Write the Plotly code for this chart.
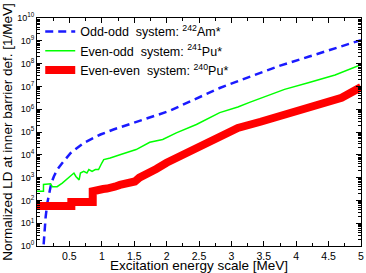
import plotly.graph_objects as go

# Odd-odd system 242Am*
oo_x = [0.088, 0.1, 0.12, 0.134, 0.16, 0.185, 0.22, 0.26, 0.32, 0.39, 0.52, 0.72, 0.98, 1.18,
        1.5, 1.75, 2.05, 2.43, 2.82, 3.28, 3.74, 4.2, 4.6, 5.0]
oo_log = [-0.5, 0.1, 0.7, 1.29, 1.9, 2.32, 2.75, 3.05, 3.38, 3.64, 4.08, 4.52, 4.89, 5.11,
          5.42, 5.66, 5.93, 6.43, 6.93, 7.42, 7.90, 8.31, 8.67, 9.03]

# Even-odd system 241Pu*
eo_x = [0.0, 0.1, 0.1, 0.21, 0.235, 0.31, 0.39, 0.47, 0.52, 0.57, 0.6, 0.65, 0.67, 0.72, 0.77,
        0.8, 0.85, 0.9, 0.95, 0.98, 1.0, 1.03, 1.13, 1.28, 1.53, 1.74, 1.94, 2.15, 2.46,
        2.82, 3.1, 3.28, 3.82, 4.2, 4.6, 5.0]
eo_log = [2.4, 2.4, 2.7, 2.73, 2.6, 2.6, 2.76, 2.94, 3.05, 3.2, 3.05, 2.9, 3.2, 3.27, 3.2,
          3.35, 3.27, 3.35, 3.35, 3.49, 3.64, 3.79, 3.86, 4.0, 4.23, 4.55, 4.67, 4.96, 5.33,
          5.85, 6.1, 6.3, 6.87, 7.17, 7.5, 7.95]

# Even-even system 240Pu*
ee_x = [0.0, 0.53, 0.53, 0.86, 0.86, 1.0, 1.02, 1.08, 1.12, 1.2, 1.28, 1.35, 1.4, 1.51, 1.58,
        1.69, 1.84, 2.0, 2.3, 2.82, 3.1, 3.45, 3.82, 4.35, 4.7, 5.0]
ee_log = [1.75, 1.75, 1.93, 1.93, 2.4, 2.42, 2.5, 2.52, 2.58, 2.6, 2.68, 2.7, 2.76, 2.83, 3.0,
          3.2, 3.38, 3.65, 4.08, 4.81, 5.18, 5.45, 5.77, 6.14, 6.5, 6.97]

x_ticks = [0.5, 1, 1.5, 2, 2.5, 3, 3.5, 4, 4.5, 5]
x_labels = ["0.5", "1", "1.5", "2", "2.5", "3", "3.5", "4", "4.5", "5"]
y_exps = list(range(0, 11))

def lin(v):
    return [10 ** a for a in v]

fig = go.Figure()
fig.add_trace(go.Scatter(x=oo_x, y=lin(oo_log), mode="lines",
                         name="Odd-odd  system: <sup>242</sup>Am*",
                         line=dict(color="#1a1aff", width=2.5, dash="8px,5px")))
fig.add_trace(go.Scatter(x=eo_x, y=lin(eo_log), mode="lines",
                         name="Even-odd  system: <sup>241</sup>Pu*",
                         line=dict(color="#00ff00", width=1.5)))
fig.add_trace(go.Scatter(x=ee_x, y=lin(ee_log), mode="lines",
                         name="Even-even  system: <sup>240</sup>Pu*",
                         line=dict(color="#ff0000", width=8)))

minor_y = [k * 10 ** n for n in range(0, 10) for k in range(2, 10)]

fig.update_layout(
    width=366, height=273,
    margin=dict(l=37, r=5, t=18, b=27, autoexpand=False),
    paper_bgcolor="white", plot_bgcolor="white",
    font=dict(family="Liberation Sans, Arial, sans-serif", color="black"),
    showlegend=True,
    legend=dict(x=0.01, y=1.005, xanchor="left", yanchor="top",
                bgcolor="rgba(255,255,255,0)", font=dict(size=12.5),
                tracegroupgap=0, itemwidth=30),
    xaxis=dict(range=[0, 5], tickmode="array", tickvals=x_ticks, ticktext=x_labels,
               ticks="inside", ticklen=5, tickcolor="black", showgrid=False, zeroline=False,
               showline=True, linecolor="black", linewidth=1, mirror="ticks",
               tickfont=dict(size=10.5),
               minor=dict(dtick=0.25, tick0=0, ticks="inside", ticklen=3, tickcolor="black"),
               title=dict(text="Excitation energy scale [MeV]", font=dict(size=13.5), standoff=1)),
    yaxis=dict(type="log", range=[0, 10], tickmode="array",
               tickvals=[10 ** e for e in y_exps],
               ticktext=["10<sup>%d</sup>" % e for e in y_exps],
               ticks="inside", ticklen=5, tickcolor="black", showgrid=False, zeroline=False,
               showline=True, linecolor="black", linewidth=1, mirror="ticks",
               tickfont=dict(size=9),
               minor=dict(tickmode="array", tickvals=minor_y, ticks="inside", ticklen=3,
                          tickcolor="black"),
               title=dict(text="Normalized LD at inner barrier def. [1/MeV]",
                          font=dict(size=13.5), standoff=1)),
)

fig.write_html("out.html", config={"displayModeBar": False},
               post_script="document.body.style.margin='0';")
